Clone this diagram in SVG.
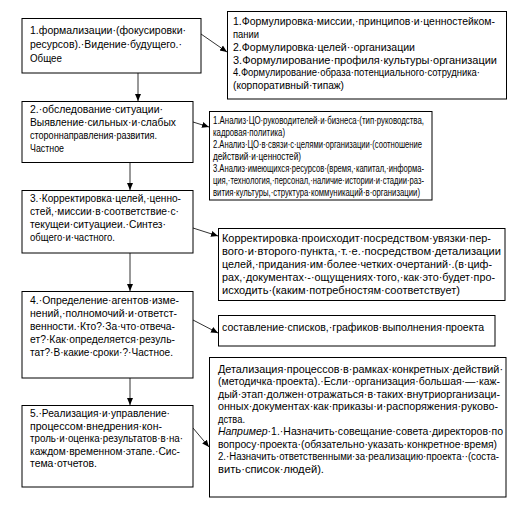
<svg xmlns="http://www.w3.org/2000/svg" width="517" height="514" viewBox="0 0 517 514">
<style>
.box{fill:#fff;stroke:#000;stroke-width:1}
text{font-family:"Liberation Sans",Arial,sans-serif;font-size:11px;fill:#000}
.s{font-size:10px}
.m{font-size:10.5px}
.c{stroke:#333;stroke-width:1;fill:none}
</style>
<defs>
<marker id="ah" markerWidth="8" markerHeight="8" refX="7" refY="4" orient="auto" markerUnits="userSpaceOnUse">
<path d="M0,1 L7,4 L0,7 Z" fill="#000"/>
</marker>
</defs>
<rect width="517" height="514" fill="#fff"/>
<g id="connectors">
<line class="c" x1="138" y1="73" x2="138" y2="101" marker-end="url(#ah)"/>
<line class="c" x1="130" y1="162" x2="130" y2="190" marker-end="url(#ah)"/>
<line class="c" x1="130" y1="253" x2="130" y2="291" marker-end="url(#ah)"/>
<line class="c" x1="130" y1="378" x2="130" y2="405" marker-end="url(#ah)"/>
<line class="c" x1="201" y1="34" x2="227" y2="52" marker-end="url(#ah)"/>
<line class="c" x1="193" y1="122" x2="209" y2="127" marker-end="url(#ah)"/>
<line class="c" x1="193" y1="228" x2="218" y2="236" marker-end="url(#ah)"/>
<line class="c" x1="193" y1="320" x2="218" y2="333" marker-end="url(#ah)"/>
<line class="c" x1="193" y1="428" x2="209" y2="447" marker-end="url(#ah)"/>
</g>
<g id="n1">
<rect class="box" x="22" y="18.5" width="179" height="54.5"/>
<text x="30" y="34" textLength="156" lengthAdjust="spacingAndGlyphs">1.формализации·(фокусировки·</text>
<text x="30" y="48" textLength="152" lengthAdjust="spacingAndGlyphs">ресурсов).·Видение·будущего.·</text>
<text x="30" y="62" textLength="32" lengthAdjust="spacingAndGlyphs">Общее</text>
</g>
<g id="r1">
<rect class="box" x="227.5" y="11.5" width="279" height="87.5"/>
<text x="233" y="25" textLength="262" lengthAdjust="spacingAndGlyphs">1.Формулировка·миссии,·принципов·и·ценностейком-</text>
<text x="233" y="38" textLength="26" lengthAdjust="spacingAndGlyphs">пании</text>
<text x="233" y="51" textLength="182" lengthAdjust="spacingAndGlyphs">2.Формулировка·целей··организации</text>
<text x="233" y="64" textLength="264" lengthAdjust="spacingAndGlyphs">3.Формулирование·профиля·культуры·организации</text>
<text x="233" y="76" class="s" textLength="247" lengthAdjust="spacingAndGlyphs">4.Формулирование·образа·потенциального·сотрудника·</text>
<text x="233" y="89" textLength="111" lengthAdjust="spacingAndGlyphs">(корпоративный·типаж)</text>
</g>
<g id="n2">
<rect class="box" x="22" y="101.5" width="171" height="61"/>
<text x="30" y="113" textLength="133" lengthAdjust="spacingAndGlyphs">2.·обследование·ситуации·</text>
<text x="30" y="126" textLength="146" lengthAdjust="spacingAndGlyphs">Выявление·сильных·и·слабых</text>
<text x="30" y="139" class="s" textLength="127" lengthAdjust="spacingAndGlyphs">стороннаправления·развития.</text>
<text x="30" y="152" textLength="34" lengthAdjust="spacingAndGlyphs">Частное</text>
</g>
<g id="r2">
<rect class="box" x="209.5" y="111.5" width="222.5" height="88.5"/>
<text x="213" y="124" class="m" textLength="211" lengthAdjust="spacingAndGlyphs">1.Анализ·ЦО·руководителей·и·бизнеса·(тип·руководства,</text>
<text x="213" y="136" class="m" textLength="72" lengthAdjust="spacingAndGlyphs">кадровая·политика)</text>
<text x="213" y="148" class="m" textLength="209" lengthAdjust="spacingAndGlyphs">2.Анализ·ЦО·в·связи·с·целями·организации·(соотношение</text>
<text x="213" y="160" class="m" textLength="88" lengthAdjust="spacingAndGlyphs">действий·и·ценностей)</text>
<text x="213" y="172" class="m" textLength="211" lengthAdjust="spacingAndGlyphs">3.Анализ·имеющихся·ресурсов·(время,·капитал,·информа-</text>
<text x="213" y="184" class="m" textLength="211" lengthAdjust="spacingAndGlyphs">ция,·технология,·персонал,·наличие·истории·и·стадии·раз-</text>
<text x="213" y="196" class="m" textLength="207" lengthAdjust="spacingAndGlyphs">вития·культуры,·структура·коммуникаций·в·организации)</text>
</g>
<g id="n3">
<rect class="box" x="22" y="190.5" width="171" height="62.5"/>
<text x="30" y="202" textLength="151" lengthAdjust="spacingAndGlyphs">3.·Корректировка·целей,·ценно-</text>
<text x="30" y="215" textLength="149" lengthAdjust="spacingAndGlyphs">стей,·миссии·в·соответствие·с·</text>
<text x="30" y="228" textLength="136" lengthAdjust="spacingAndGlyphs">текущеи·ситуациеи.·Синтез·</text>
<text x="30" y="241" textLength="85" lengthAdjust="spacingAndGlyphs">общего·и·частного.</text>
</g>
<g id="r3">
<rect class="box" x="218.5" y="228.5" width="286.5" height="72"/>
<text x="222" y="242" textLength="269" lengthAdjust="spacingAndGlyphs">Корректировка·происходит·посредством·увязки·пер-</text>
<text x="222" y="255" textLength="279" lengthAdjust="spacingAndGlyphs">вого·и·второго·пункта,·т.·е.·посредством·детализации</text>
<text x="222" y="268" textLength="270" lengthAdjust="spacingAndGlyphs">целей,·придания·им·более·четких·очертаний·.(в·циф-</text>
<text x="222" y="281" textLength="273" lengthAdjust="spacingAndGlyphs">рах,·документах·-·ощущениях·того,·как·это·будет·про-</text>
<text x="222" y="294" textLength="238" lengthAdjust="spacingAndGlyphs">исходить·(каким·потребностям·соответствует)</text>
</g>
<g id="n4">
<rect class="box" x="22" y="291.5" width="171" height="86.5"/>
<text x="30" y="304" textLength="149" lengthAdjust="spacingAndGlyphs">4.·Определение·агентов·изме-</text>
<text x="30" y="317" textLength="147" lengthAdjust="spacingAndGlyphs">нений,·полномочий·и·ответст-</text>
<text x="30" y="330" textLength="145" lengthAdjust="spacingAndGlyphs">венности.·Кто?·За·что·отвеча-</text>
<text x="30" y="343" textLength="145" lengthAdjust="spacingAndGlyphs">ет?·Как·определяется·резуль-</text>
<text x="30" y="356" textLength="143" lengthAdjust="spacingAndGlyphs">тат?·В·какие·сроки·?·Частное.</text>
</g>
<g id="r4">
<rect class="box" x="218.5" y="315.5" width="276.5" height="30.5"/>
<text x="222" y="331" textLength="262" lengthAdjust="spacingAndGlyphs">составление·списков,·графиков·выполнения·проекта</text>
</g>
<g id="n5">
<rect class="box" x="22" y="405.5" width="171" height="81.5"/>
<text x="30" y="417" textLength="140" lengthAdjust="spacingAndGlyphs">5.·Реализация·и·управление·</text>
<text x="30" y="430" textLength="132" lengthAdjust="spacingAndGlyphs">процессом·внедрения·кон-</text>
<text x="30" y="442" textLength="153" lengthAdjust="spacingAndGlyphs">троль·и·оценка·результатов·в·на·</text>
<text x="30" y="455" textLength="150" lengthAdjust="spacingAndGlyphs">каждом·временном·этапе.·Сис-</text>
<text x="30" y="467" textLength="67" lengthAdjust="spacingAndGlyphs">тема·отчетов.</text>
</g>
<g id="r5">
<rect class="box" x="209.5" y="357.5" width="296.5" height="139.5"/>
<text x="218" y="373" textLength="285" lengthAdjust="spacingAndGlyphs">Детализация·процессов·в·рамках·конкретных·действий·</text>
<text x="218" y="385" textLength="282" lengthAdjust="spacingAndGlyphs">(методичка·проекта).·Если··организация·большая·—·каж-</text>
<text x="218" y="398" textLength="282" lengthAdjust="spacingAndGlyphs">дый·этап·должен·отражаться·в·таких·внутриорганизаци-</text>
<text x="218" y="410" textLength="280" lengthAdjust="spacingAndGlyphs">онных·документах·как·приказы·и·распоряжения·руково-</text>
<text x="218" y="423" textLength="27" lengthAdjust="spacingAndGlyphs">дства.</text>
<text x="218" y="435" textLength="285" lengthAdjust="spacingAndGlyphs"><tspan font-style="italic">Например</tspan>·1.·Назначить·совещание·совета·директоров·по</text>
<text x="218" y="448" textLength="279" lengthAdjust="spacingAndGlyphs">вопросу·проекта·(обязательно·указать·конкретное·время)</text>
<text x="218" y="460" class="s" textLength="281" lengthAdjust="spacingAndGlyphs">2.·Назначить·ответственными·за·реализацию·проекта··(соста-</text>
<text x="218" y="473" textLength="106" lengthAdjust="spacingAndGlyphs">вить·список·людей).</text>
</g>
</svg>
